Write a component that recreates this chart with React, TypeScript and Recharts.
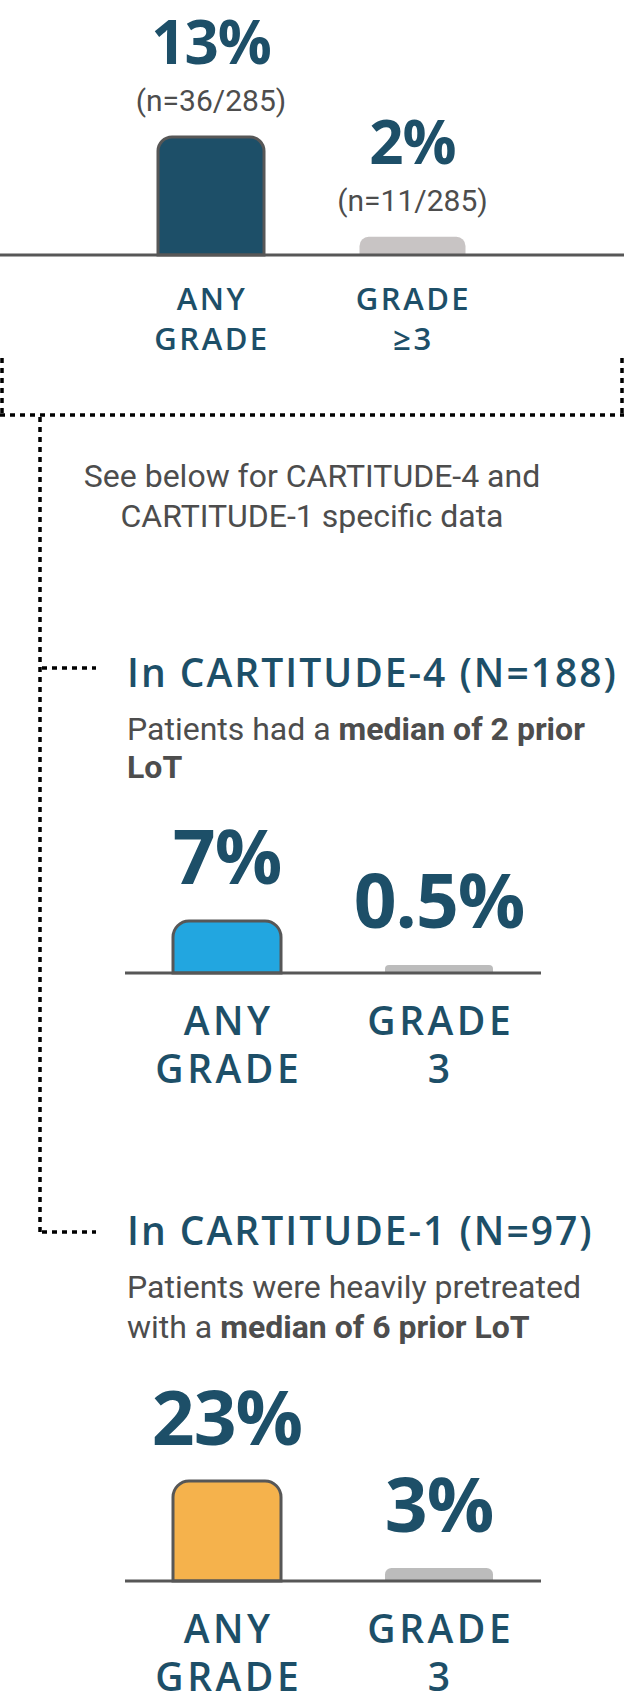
import React from 'react';
import { BarChart, Bar, XAxis, YAxis, Cell, LabelList } from 'recharts';

// ---------- data ----------
const overallCategories = ['ANY GRADE', 'GRADE ≥3'];
const overallValues = [13, 2];
const overallCounts = ['(n=36/285)', '(n=11/285)'];

const c4Categories = ['ANY GRADE', 'GRADE 3'];
const c4Values = [7, 0.5];

const c1Categories = ['ANY GRADE', 'GRADE 3'];
const c1Values = [23, 3];

// ---------- styles ----------
const NAVY = '#1d4f68';
const TEXT_GRAY = '#4d4d4d';
const BORDER = '#575757';
const overallFills = ['#1d4f68', '#c8c4c4'];
const c4Fills = ['#22a6e0', '#bcbcbc'];
const c1Fills = ['#f5b24c', '#bcbcbc'];
const HEAD_FONT = "'Open Sans', 'Noto Sans', sans-serif";
const BODY_FONT = "Roboto, 'Noto Sans', sans-serif";

type ChartProps = {
  top: number;
  height: number;
  margin: { top: number; left: number; right: number; bottom: number };
  padding: { left: number; right: number };
  axisHeight: number;
  categories: string[];
  values: number[];
  counts?: string[];
  fills: string[];
  domainMax: number;
  barSize: number;
  radius: number;
  minPointSize?: number;
  pctFont: number;
  pctOffset: number;
  countOffset?: number;
  tickFont: number;
  tickLine1: number;
  tickLine2: number;
  tickSpacing: number;
};

function getBox(props: any) {
  const vb = props.viewBox || {};
  const x = Number(props.x ?? vb.x);
  const y = Number(props.y ?? vb.y);
  const width = Number(props.width ?? vb.width);
  return { x, y, width };
}

function MiniChart(p: ChartProps) {
  const data = p.categories.map((c, i) => ({
    category: c,
    value: p.values[i],
    n: p.counts ? p.counts[i] : '',
  }));

  const renderTick = (props: any) => {
    const { x, y, payload } = props;
    const parts = String(payload.value).split(' ');
    const common = {
      textAnchor: 'middle' as const,
      fontFamily: HEAD_FONT,
      fontWeight: 600,
      fontSize: p.tickFont,
      letterSpacing: p.tickSpacing,
      fill: NAVY,
    };
    return (
      <g>
        <text x={x + p.tickSpacing / 2} y={y + p.tickLine1} {...common}>
          {parts[0]}
        </text>
        <text x={x + p.tickSpacing / 2} y={y + p.tickLine2} {...common}>
          {parts.slice(1).join(' ')}
        </text>
      </g>
    );
  };

  const renderPct = (props: any) => {
    const { x, y, width } = getBox(props);
    return (
      <text
        x={x + width / 2}
        y={y - p.pctOffset}
        textAnchor="middle"
        fontFamily={HEAD_FONT}
        fontWeight={700}
        fontSize={p.pctFont}
        letterSpacing={-1}
        fill={NAVY}
      >
        {`${props.value}%`}
      </text>
    );
  };

  const renderCount = (props: any) => {
    const { x, y, width } = getBox(props);
    return (
      <text
        x={x + width / 2}
        y={y - (p.countOffset || 0)}
        textAnchor="middle"
        fontFamily={BODY_FONT}
        fontWeight={400}
        fontSize={30}
        fill={TEXT_GRAY}
      >
        {props.value}
      </text>
    );
  };

  return (
    <div style={{ position: 'absolute', left: 0, top: p.top, width: 624, height: p.height }}>
      <BarChart width={624} height={p.height} data={data} margin={p.margin} barSize={p.barSize}>
        <YAxis hide domain={[0, p.domainMax]} />
        <XAxis
          dataKey="category"
          height={p.axisHeight}
          padding={p.padding}
          tickLine={false}
          tickSize={0}
          tickMargin={0}
          axisLine={{ stroke: BORDER, strokeWidth: 3 }}
          tick={renderTick}
          interval={0}
        />
        <Bar
          dataKey="value"
          isAnimationActive={false}
          radius={[p.radius, p.radius, 0, 0]}
          minPointSize={p.minPointSize || 0}
        >
          {data.map((d, i) => (
            <Cell
              key={i}
              fill={p.fills[i]}
              stroke={i === 0 ? BORDER : 'none'}
              strokeWidth={i === 0 ? 3 : 0}
            />
          ))}
          <LabelList dataKey="value" content={renderPct} />
          {p.counts ? <LabelList dataKey="n" content={renderCount} /> : null}
        </Bar>
      </BarChart>
    </div>
  );
}

const dot = { stroke: '#000', strokeWidth: 3.5, strokeDasharray: '5 5', fill: 'none' };

export default function App() {
  return (
    <div
      style={{
        position: 'absolute',
        left: 0,
        top: 0,
        width: 624,
        height: 1704,
        background: '#fff',
        overflow: 'hidden',
      }}
    >
      <svg width={624} height={1704} style={{ position: 'absolute', left: 0, top: 0 }}>
        {/* dotted connectors */}
        <line x1={2} y1={358} x2={2} y2={415} {...dot} />
        <line x1={0} y1={415} x2={624} y2={415} {...dot} />
        <line x1={622} y1={358} x2={622} y2={415} {...dot} />
        <line x1={40} y1={417} x2={40} y2={1232} {...dot} />
        <line x1={42} y1={668} x2={96} y2={668} {...dot} />
        <line x1={42} y1={1232} x2={96} y2={1232} {...dot} />

        <text x={312} y={487} textAnchor="middle" fontFamily={BODY_FONT} fontSize={32} fill={TEXT_GRAY}>
          See below for CARTITUDE-4 and
        </text>
        <text x={312} y={527} textAnchor="middle" fontFamily={BODY_FONT} fontSize={32} fill={TEXT_GRAY}>
          CARTITUDE-1 specific data
        </text>

        <text x={127} y={687} fontFamily={HEAD_FONT} fontWeight={600} fontSize={39} letterSpacing={2} fill={NAVY}>
          In CARTITUDE-4 (N=188)
        </text>
        <text x={127} y={740} fontFamily={BODY_FONT} fontSize={32} fill={TEXT_GRAY}>
          Patients had a <tspan fontWeight={700}>median of 2 prior</tspan>
        </text>
        <text x={127} y={778} fontFamily={BODY_FONT} fontSize={32} fontWeight={700} fill={TEXT_GRAY}>
          LoT
        </text>

        <text x={127} y={1245} fontFamily={HEAD_FONT} fontWeight={600} fontSize={39} letterSpacing={2} fill={NAVY}>
          In CARTITUDE-1 (N=97)
        </text>
        <text x={127} y={1298} fontFamily={BODY_FONT} fontSize={32} fill={TEXT_GRAY}>
          Patients were heavily pretreated
        </text>
        <text x={127} y={1338} fontFamily={BODY_FONT} fontSize={32} fill={TEXT_GRAY}>
          with a <tspan fontWeight={700}>median of 6 prior LoT</tspan>
        </text>
      </svg>

      <MiniChart
        top={0}
        height={360}
        margin={{ top: 19, left: 0, right: 0, bottom: 0 }}
        padding={{ left: 110, right: 111 }}
        axisHeight={105}
        categories={overallCategories}
        values={overallValues}
        counts={overallCounts}
        fills={overallFills}
        domainMax={26}
        barSize={106}
        radius={14}
        pctFont={60}
        pctOffset={73}
        countOffset={26}
        tickFont={31}
        tickLine1={55}
        tickLine2={95}
        tickSpacing={2.5}
      />

      <MiniChart
        top={800}
        height={293}
        margin={{ top: 17, left: 125, right: 83, bottom: 0 }}
        padding={{ left: -4, right: -4 }}
        axisHeight={120}
        categories={c4Categories}
        values={c4Values}
        fills={c4Fills}
        domainMax={21}
        barSize={108}
        radius={16}
        minPointSize={8}
        pctFont={75}
        pctOffset={37}
        tickFont={39}
        tickLine1={62}
        tickLine2={110}
        tickSpacing={3.5}
      />

      <MiniChart
        top={1361}
        height={340}
        margin={{ top: 20, left: 125, right: 83, bottom: 0 }}
        padding={{ left: -4, right: -4 }}
        axisHeight={120}
        categories={c1Categories}
        values={c1Values}
        fills={c1Fills}
        domainMax={46}
        barSize={108}
        radius={16}
        pctFont={75}
        pctOffset={36}
        tickFont={39}
        tickLine1={62}
        tickLine2={110}
        tickSpacing={3.5}
      />
    </div>
  );
}
